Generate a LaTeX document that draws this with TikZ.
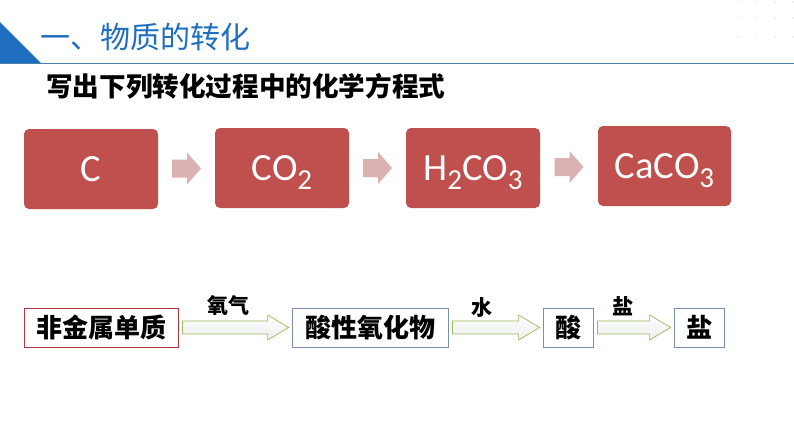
\documentclass[tikz,border=0pt]{standalone}
\usepackage{fontspec}
\setmainfont{Carlito}
\newfontfamily\cjk{Noto Sans CJK SC}
\usetikzlibrary{calc}
\definecolor{titleblue}{HTML}{1F6EBF}
\definecolor{boxred}{HTML}{C0504D}
\definecolor{chevcol}{HTML}{DCB1B2}
\definecolor{arrgreen}{HTML}{9BBB59}
\definecolor{linecol}{HTML}{4A7FA8}
\definecolor{frred}{HTML}{A8383C}
\definecolor{frblue}{HTML}{7D8FB0}
\newcommand\chemsub[1]{\raisebox{-9pt}{\fontsize{29}{29}\selectfont #1}}
\newcommand\chevarrow[2]{%
  \fill[chevcol] let \p1=($(#1.east)!0.5!(#2.west)$) in
    (\x1-14.5pt,\y1+9pt) -- (\x1+0.5pt,\y1+9pt) -- (\x1+0.5pt,\y1+16pt) --
    (\x1+14.5pt,\y1) -- (\x1+0.5pt,\y1-16pt) -- (\x1+0.5pt,\y1-9pt) --
    (\x1-14.5pt,\y1-9pt) -- cycle;}
\newcommand\hollowarrow[2]{%
  \shadedraw[draw=arrgreen, line width=0.7pt, top color=white, bottom color=gray!14]
    let \p1=($(#1.east)+(4pt,0)$), \p2=($(#2.west)+(-3pt,0)$) in
    (\x1,\y1+6.5pt) -- (\x2-21pt,\y1+6.5pt) -- (\x2-21pt,\y1+12.5pt) --
    (\x2,\y1) -- (\x2-21pt,\y1-12.5pt) -- (\x2-21pt,\y1-6.5pt) --
    (\x1,\y1-6.5pt) -- cycle;}
\tikzset{
  redbox/.style={rounded corners=5pt, fill=boxred, text=white,
    minimum width=134pt, minimum height=80pt, inner sep=0pt,
    text height=25pt, text depth=0pt, font=\fontsize{38.5}{38.5}\selectfont},
  framebox/.style={draw, line width=0.8pt, minimum height=39pt, inner sep=0pt,
    font=\cjk\bfseries\fontsize{26}{26}\selectfont},
  arrlabel/.style={inner sep=0pt, font=\cjk\bfseries\fontsize{21}{21}\selectfont}
}
\begin{document}
\begin{tikzpicture}[x=1pt,y=-1pt]
\useasboundingbox (0,0) rectangle (794,447);
\fill[white] (0,0) rectangle (794,447);
% decorative dots
\foreach \xx in {738,757,775,793}{\foreach \yy in {2,18,37}{\fill[gray!22] (\xx,\yy) circle (0.9pt);}}
% title band
\fill[titleblue] (0,22) -- (41,63) -- (0,63) -- cycle;
\draw[linecol, line width=1.2pt] (0,63.5) -- (794,63.5);
\node[anchor=west, text=titleblue, inner sep=0pt, font=\cjk\fontsize{30}{30}\selectfont] (title) at (40,37) {一、物质的转化};
\node[anchor=west, inner sep=0pt, font=\cjk\bfseries\fontsize{26.6}{26.6}\selectfont] (subtitle) at (46,86) {写出下列转化过程中的化学方程式};
% red boxes
\node[redbox] (b1) at (91,169) {C};
\node[redbox] (b2) at (282,168) {CO\chemsub{2}};
\node[redbox] (b3) at (473,168) {H\chemsub{2}CO\chemsub{3}};
\node[redbox, minimum width=133pt] (b4) at (664.5,166) {CaCO\chemsub{3}};
\chevarrow{b1}{b2}
\chevarrow{b2}{b3}
\chevarrow{b3}{b4}
% bottom row
\node[framebox, draw=frred, minimum width=154pt] (n1) at (101,327.5) {非金属单质};
\node[framebox, draw=frblue, minimum width=156pt] (n2) at (370,327.5) {酸性氧化物};
\node[framebox, draw=frblue, minimum width=50pt] (n3) at (568,327.5) {酸};
\node[framebox, draw=frblue, minimum width=50pt] (n4) at (699,327.5) {盐};
\hollowarrow{n1}{n2}
\hollowarrow{n2}{n3}
\hollowarrow{n3}{n4}
\node[arrlabel] (l1) at (228,305) {氧气};
\node[arrlabel] (l2) at (482,308) {水};
\node[arrlabel] (l3) at (623,306) {盐};
\end{tikzpicture}
\end{document}
